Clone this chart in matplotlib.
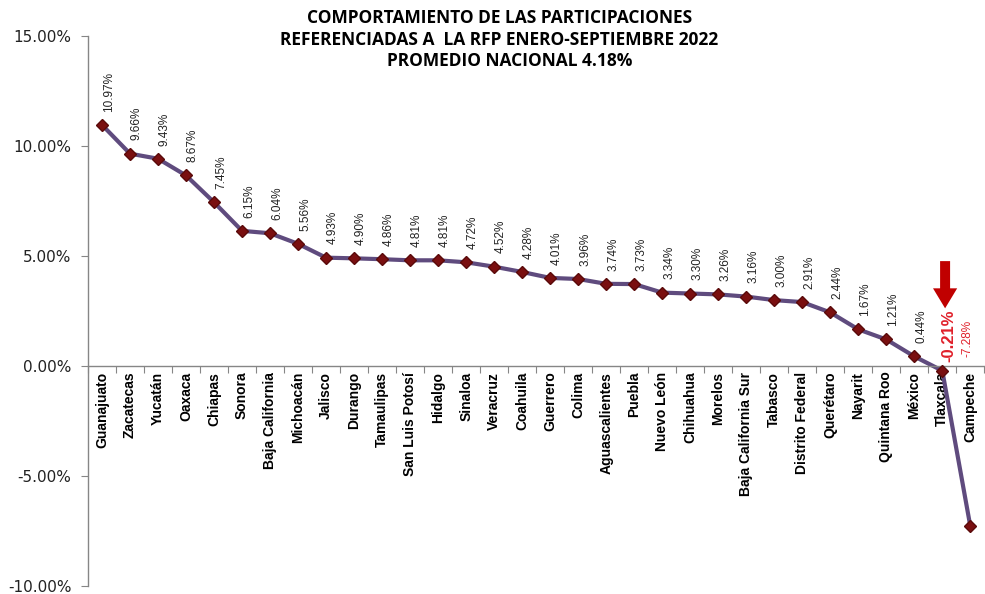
import matplotlib
matplotlib.use("Agg")
import matplotlib.pyplot as plt
from matplotlib.ticker import FuncFormatter, FixedLocator
import numpy as np

estados = ['Guanajuato', 'Zacatecas', 'Yucatán', 'Oaxaca', 'Chiapas', 'Sonora',
           'Baja California', 'Michoacán', 'Jalisco', 'Durango', 'Tamaulipas',
           'San Luis Potosí', 'Hidalgo', 'Sinaloa', 'Veracruz', 'Coahuila',
           'Guerrero', 'Colima', 'Aguascalientes', 'Puebla', 'Nuevo León',
           'Chihuahua', 'Morelos', 'Baja California Sur', 'Tabasco',
           'Distrito Federal', 'Querétaro', 'Nayarit', 'Quintana Roo', 'México',
           'Tlaxcala', 'Campeche']
variacion = [10.97, 9.66, 9.43, 8.67, 7.45, 6.15, 6.04, 5.56, 4.93, 4.90, 4.86,
             4.81, 4.81, 4.72, 4.52, 4.28, 4.01, 3.96, 3.74, 3.73, 3.34, 3.30,
             3.26, 3.16, 3.00, 2.91, 2.44, 1.67, 1.21, 0.44, -0.21, -7.28]
titulo = ("COMPORTAMIENTO DE LAS PARTICIPACIONES\n"
          "REFERENCIADAS A  LA RFP ENERO-SEPTIEMBRE 2022")
subtitulo = "PROMEDIO NACIONAL 4.18%"

narrow = ['Liberation Sans', 'DejaVu Sans']
gris = '#868686'
rojo = '#E0202A'

fig = plt.figure(figsize=(9.85, 5.94), dpi=100)
ax = fig.add_axes([0.0893, 0.0135, 0.910, 0.9255])

x = np.arange(len(estados))
ax.plot(x, variacion, color='#5F4B7E', lw=3, zorder=2)
ax.plot(x, variacion, ls='none', marker='D', ms=6, color='#7A0F10',
        mec='#5A0A0A', zorder=3)

ax.set_xlim(-0.5, len(estados) - 0.5)
ax.set_ylim(-10, 15)
ax.set_yticks([-10, -5, 0, 5, 10, 15])
ax.yaxis.set_major_formatter(FuncFormatter(lambda v, p: f'{v:.2f}%'))
ax.tick_params(axis='y', direction='out', length=5, color=gris,
               labelsize=11, labelcolor='#222222', pad=7)

# category axis sits on the zero line, ticks at the boundaries
ax.spines['bottom'].set_position(('data', 0))
ax.xaxis.set_major_locator(FixedLocator(np.arange(len(estados) + 1) - 0.5))
ax.xaxis.set_major_formatter(FuncFormatter(lambda v, p: ''))
ax.xaxis.set_minor_locator(FixedLocator(x))
ax.set_xticklabels(estados, minor=True, rotation=90, fontsize=10,
                   fontweight='bold', family=narrow, va='top', ha='center')
ax.tick_params(axis='x', which='major', direction='out', length=5, color=gris)
ax.tick_params(axis='x', which='minor', length=0, pad=4)

for s in ['top', 'right']:
    ax.spines[s].set_visible(False)
for s in ['left', 'bottom']:
    ax.spines[s].set_color(gris)
    ax.spines[s].set_linewidth(1)

# value labels
for i, v in enumerate(variacion[:-2]):
    ax.annotate(f'{v:.2f}%', (i, v), xytext=(5, 9.5), textcoords='offset points',
                rotation=90, ha='center', va='bottom', fontsize=8.5,
                family=narrow, color='#222222')
ax.text(30.25, 0.18, f'{variacion[-2]:.2f}%', rotation=90, ha='center',
        va='bottom', fontsize=12, fontweight='bold', family=narrow, color=rojo)
ax.text(30.9, 0.4, f'{variacion[-1]:.2f}%', rotation=90, ha='center',
        va='bottom', fontsize=8.5, family=narrow, color=rojo)

ax.annotate('', xy=(30.1, 2.5), xytext=(30.1, 4.9),
            arrowprops=dict(arrowstyle='simple,head_length=1.2,head_width=1.45,tail_width=0.6',
                            mutation_scale=12, color='#C00000', lw=0))

fig.text(0.507, 0.985, titulo, ha='center', va='top', fontsize=12.5,
         fontweight='bold', family='Open Sans', linespacing=1.3)
fig.text(0.517, 0.897, subtitulo, ha='center', va='center', fontsize=12.5,
         fontweight='bold', family='Open Sans')

fig.savefig('out.png', dpi=100)
